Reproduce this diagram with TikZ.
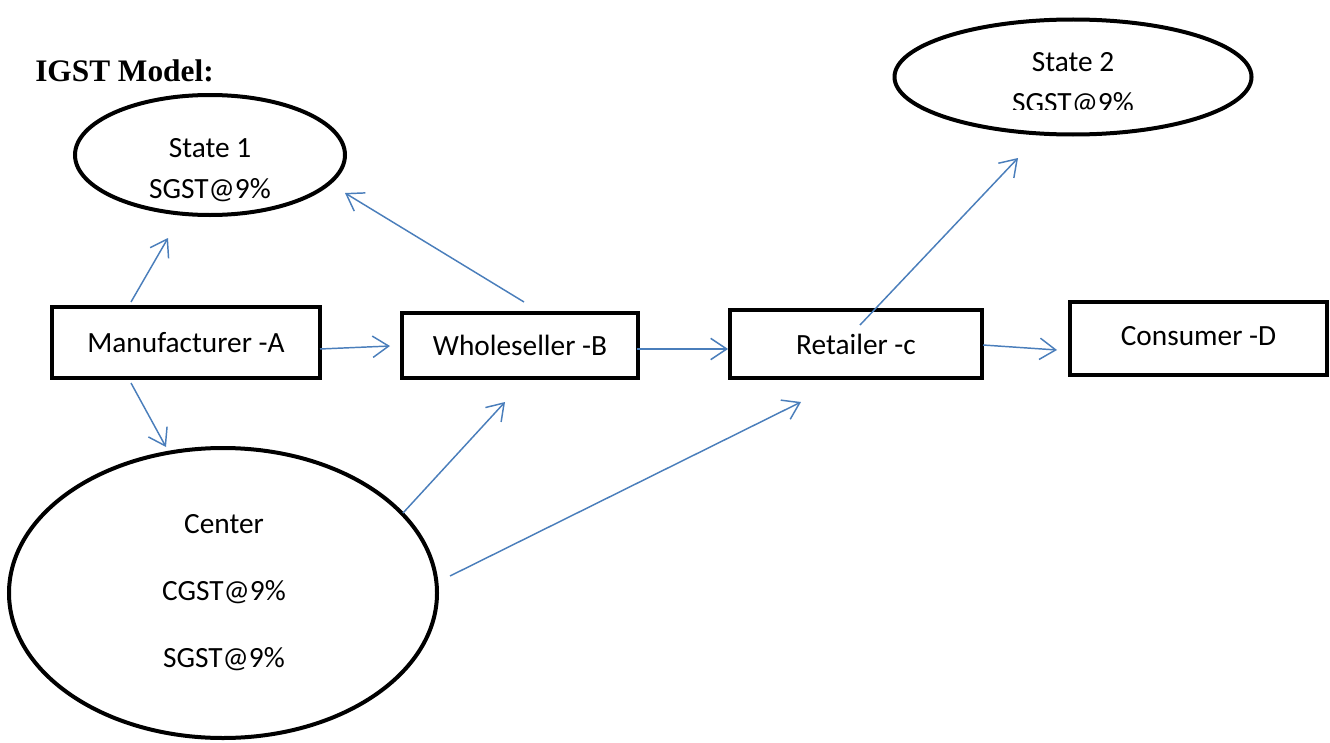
\documentclass[tikz,border=0pt]{standalone}
\usepackage{fontspec}
\setmainfont{Carlito}
\newfontfamily\titlefont{Liberation Serif}
\usetikzlibrary{shapes.geometric,arrows.meta}
\definecolor{arrowblue}{HTML}{4A7EBB}
\tikzset{
  boxnode/.style={draw=black, line width=3pt, rectangle, inner sep=0pt, font=\fontsize{22}{26}\selectfont},
  ovalnode/.style={draw=black, line width=3pt, ellipse, inner sep=0pt},
  ovaltext/.style={font=\fontsize{22}{26}\selectfont, inner sep=0pt},
  flow/.style={draw=arrowblue, line width=1.1pt, -{Straight Barb[length=12pt, width=16pt, line width=1.1pt]}}
}
\begin{document}
\begin{tikzpicture}[x=0.75pt, y=-0.75pt]
\useasboundingbox (0,0) rectangle (1330,742);
\node[anchor=base west, inner sep=0pt, font=\titlefont\bfseries\fontsize{23.5}{28}\selectfont] (title) at (35,82) {IGST Model:};

% ellipses
\node[ovalnode, minimum width=270*0.75pt, minimum height=120*0.75pt] (s1) at (210,155) {};
\node[ovaltext] (s1a) at (210,148) {State 1};
\node[ovaltext] (s1b) at (210,190) {SGST@9\%};

\node[ovalnode, minimum width=357*0.75pt, minimum height=115*0.75pt] (s2) at (1073,77) {};
\node[ovaltext] (s2a) at (1073,62) {State 2};
\begin{scope}
\clip (950,80) rectangle (1200,109.5);
\node[ovaltext] (s2b) at (1073,104) {SGST@9\%};
\end{scope}

\node[ovalnode, minimum width=428*0.75pt, minimum height=290*0.75pt] (c) at (223,593) {};
\node[ovaltext] (ca) at (224,524) {Center};
\node[ovaltext] (cb) at (224,592) {CGST@9\%};
\node[ovaltext] (cc) at (224,659) {SGST@9\%};

% boxes
\node[boxnode, minimum width=268*0.75pt, minimum height=71*0.75pt] (m) at (186,342.5) {Manufacturer -A};
\node[boxnode, minimum width=236*0.75pt, minimum height=65*0.75pt] (w) at (520,345.5) {Wholeseller -B};
\node[boxnode, minimum width=252*0.75pt, minimum height=68*0.75pt] (r) at (856,344) {Retailer -c};
\node[boxnode, minimum width=257*0.75pt, minimum height=73*0.75pt] (d) at (1198.5,338.5) {\raisebox{4pt}{Consumer -D}};

% connectors
\draw[flow] ([shift={(-55,-40.5)}]m.center) -- ([shift={(-42,83)}]s1.center);
\draw[flow] ([shift={(4,-43.5)}]w.center) -- ([shift={(135,38)}]s1.center);
\draw[flow] ([shift={(134,6.5)}]m.center) -- ([shift={(-130,0.5)}]w.center);
\draw[flow] ([shift={(117,3.5)}]w.center) -- ([shift={(-128,5)}]r.center);
\draw[flow] ([shift={(4,-19)}]r.center) -- ([shift={(-55,81)}]s2.center);
\draw[flow] ([shift={(127,1)}]r.center) -- ([shift={(-141.5,11.5)}]d.center);
\draw[flow] ([shift={(-55,40.5)}]m.center) -- ([shift={(-57,-146)}]c.center);
\draw[flow] ([shift={(180,-80)}]c.center) -- ([shift={(-15,56.5)}]w.center);
\draw[flow] ([shift={(227,-17)}]c.center) -- ([shift={(-55,58)}]r.center);
\end{tikzpicture}
\end{document}
